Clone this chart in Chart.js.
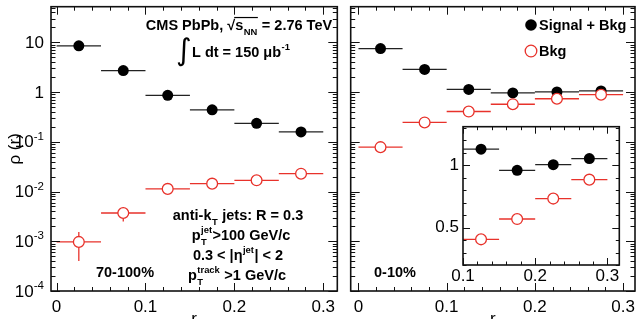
<!DOCTYPE html>
<html>
<head>
<meta charset="utf-8">
<script src="https://cdn.jsdelivr.net/npm/chart.js@4.4.1/dist/chart.umd.min.js"></script>
<style>
  body { margin: 0; background: #fff; }
  #wrap { position: relative; width: 643px; height: 319px; overflow: hidden; }
  .pane { position: absolute; }
</style>
</head>
<body>
<div id="wrap">
  <div class="pane" style="left:0;top:0;width:344px;height:319px"><canvas id="peripheral"></canvas></div>
  <div class="pane" style="left:344px;top:0;width:299px;height:319px"><canvas id="central"></canvas></div>
  <div class="pane" style="left:420px;top:120px;width:206px;height:165px"><canvas id="inset"></canvas></div>
</div>
<script>
const FONT = '"Liberation Sans", Arial, Helvetica, sans-serif';
const RED = '#e8322b';

// bin centres and half widths in r
const rCentres = [0.025, 0.075, 0.125, 0.175, 0.225, 0.275];
const rHalf = [0.025, 0.025, 0.025, 0.025, 0.025, 0.025];

// 70-100% centrality
const periSig = [8.5, 2.7, 0.86, 0.44, 0.235, 0.158];
const periBkg = [0.00097, 0.0037, 0.0113, 0.0144, 0.0168, 0.0228];
const periBkgErr = [0.00057, 0.0012, 0.0004, 0.0005, 0.0005, 0.0006];

// 0-10% centrality
const centSig = [7.5, 2.85, 1.13, 0.96, 1.005, 1.054];
const centBkg = [0.078, 0.245, 0.406, 0.569, 0.733, 0.885];

// tick labels
const xTickValues = [0, 0.1, 0.2, 0.3];
const yDecades = [10, 1, 0.1, 0.01, 0.001, 0.0001];
const insetXTickValues = [0.1, 0.2, 0.3];
const insetYTickValues = [0.5, 1];

function pts(xs, ys) {
  return xs.map((x, i) => ({ x, y: ys[i] }));
}

function sigSet(ys) {
  return {
    label: 'Signal + Bkg', data: pts(rCentres, ys), xErr: rHalf, yErr: null, barColor: '#222', order: 1,
    pointRadius: 5.5, pointBackgroundColor: '#000', pointBorderColor: '#000', pointBorderWidth: 0
  };
}

function bkgSet(ys, errs) {
  return {
    label: 'Bkg', data: pts(rCentres, ys), xErr: rHalf, yErr: errs, barColor: RED, order: 0,
    pointRadius: 5.4, pointBackgroundColor: '#fff', pointBorderColor: RED, pointBorderWidth: 1.3
  };
}

// tick mark lists: [value, length]
function linTicks(from, to, step, majors, majLen, minLen) {
  const out = [];
  const n = Math.round((to - from) / step);
  for (let i = 0; i <= n; i++) {
    const v = +(from + i * step).toFixed(4);
    out.push([v, majors.some(m => Math.abs(m - v) < 1e-9) ? majLen : minLen]);
  }
  return out;
}

function logTicks(lo, hi, majLen, minLen) {
  const out = [];
  for (let e = Math.floor(Math.log10(lo)); e <= Math.ceil(Math.log10(hi)); e++) {
    for (let d = 1; d <= 9; d++) {
      const v = d * Math.pow(10, e);
      if (v >= lo * 0.999 && v <= hi) out.push([v, d === 1 ? majLen : minLen]);
    }
  }
  return out;
}

// text with sub/superscripts, y is the baseline
function drawRich(ctx, parts, x, y, size, align) {
  const small = size * 0.65;
  const big = `bold ${size}px ${FONT}`;
  const little = `bold ${small}px ${FONT}`;
  const norm = p => (typeof p === 'string' ? { t: p } : p);
  const measure = p => {
    ctx.font = big;
    const wt = p.t ? ctx.measureText(p.t).width : 0;
    ctx.font = little;
    const ws = Math.max(p.sub ? ctx.measureText(p.sub).width : 0, p.sup ? ctx.measureText(p.sup).width : 0);
    return { wt, w: wt + ws + (ws ? 1 : 0) };
  };
  const items = parts.map(norm);
  const total = items.reduce((s, p) => s + measure(p).w, 0);
  let cx = align === 'center' ? x - total / 2 : align === 'right' ? x - total : x;
  ctx.textAlign = 'left';
  ctx.textBaseline = 'alphabetic';
  items.forEach(p => {
    const m = measure(p);
    if (p.t) { ctx.font = big; ctx.fillText(p.t, cx, y); }
    ctx.font = little;
    if (p.sup) ctx.fillText(p.sup, cx + m.wt + 0.5, y - size * 0.5);
    if (p.sub) ctx.fillText(p.sub, cx + m.wt + 0.5, y + size * 0.32);
    if (p.over) {
      ctx.beginPath();
      ctx.lineWidth = 1.2;
      ctx.moveTo(cx - 1, y - size * 0.86);
      ctx.lineTo(cx + m.w, y - size * 0.86);
      ctx.stroke();
    }
    cx += m.w;
  });
}

const errorBars = {
  id: 'errorBars',
  beforeDatasetsDraw(chart) {
    const { ctx, chartArea: a, scales: { x, y } } = chart;
    ctx.save();
    ctx.beginPath();
    ctx.rect(a.left, a.top, a.right - a.left, a.bottom - a.top);
    ctx.clip();
    chart.data.datasets.forEach(ds => {
      ctx.strokeStyle = ds.barColor;
      ctx.lineWidth = 1.3;
      ds.data.forEach((p, i) => {
        const px = x.getPixelForValue(p.x);
        const py = y.getPixelForValue(p.y);
        ctx.beginPath();
        ctx.moveTo(x.getPixelForValue(p.x - ds.xErr[i]), py);
        ctx.lineTo(x.getPixelForValue(p.x + ds.xErr[i]), py);
        if (ds.yErr && ds.yErr[i]) {
          ctx.moveTo(px, y.getPixelForValue(p.y + ds.yErr[i]));
          ctx.lineTo(px, y.getPixelForValue(Math.max(p.y - ds.yErr[i], 1e-9)));
        }
        ctx.stroke();
      });
    });
    ctx.restore();
  }
};

// frame with inward ticks on all four sides
const frame = {
  id: 'frame',
  beforeDraw(chart, args, o) {
    if (!o.fill) return;
    const a = chart.chartArea;
    chart.ctx.save();
    chart.ctx.fillStyle = o.fill;
    chart.ctx.fillRect(a.left, a.top, a.right - a.left, a.bottom - a.top);
    chart.ctx.restore();
  },
  afterDatasetsDraw(chart, args, o) {
    const { ctx, chartArea: a, scales: { x, y } } = chart;
    ctx.save();
    ctx.strokeStyle = '#111';
    ctx.lineWidth = 1;
    ctx.beginPath();
    o.xTicks.forEach(([v, len]) => {
      const px = Math.round(x.getPixelForValue(v)) + 0.5;
      ctx.moveTo(px, a.bottom); ctx.lineTo(px, a.bottom - len);
      ctx.moveTo(px, a.top); ctx.lineTo(px, a.top + len);
    });
    o.yTicks.forEach(([v, len]) => {
      const py = Math.round(y.getPixelForValue(v)) + 0.5;
      ctx.moveTo(a.left, py); ctx.lineTo(a.left + len, py);
      ctx.moveTo(a.right, py); ctx.lineTo(a.right - len, py);
    });
    ctx.stroke();
    ctx.lineWidth = 1.6;
    ctx.strokeRect(a.left, a.top, a.right - a.left, a.bottom - a.top);
    ctx.restore();
  }
};

// 10^n labels on the log axis
const decadeLabels = {
  id: 'decadeLabels',
  afterDraw(chart) {
    const { ctx, scales: { y } } = chart;
    const right = 44;
    ctx.save();
    ctx.fillStyle = '#000';
    ctx.textBaseline = 'middle';
    ctx.textAlign = 'left';
    yDecades.forEach(v => {
      const e = Math.round(Math.log10(v));
      const py = y.getPixelForValue(v) + 1;
      const base = e === 0 ? '1' : '10';
      const sup = e === 0 || e === 1 ? '' : String(e);
      ctx.font = `11.5px ${FONT}`;
      const ws = sup ? ctx.measureText(sup).width : 0;
      ctx.font = `17px ${FONT}`;
      const wb = ctx.measureText(base).width;
      ctx.fillText(base, right - ws - wb, py);
      if (sup) {
        ctx.font = `11.5px ${FONT}`;
        ctx.fillText(sup, right - ws, py - 6);
      }
    });
    ctx.restore();
  }
};

const peripheralText = {
  id: 'peripheralText',
  afterDraw(chart) {
    const ctx = chart.ctx;
    ctx.save();
    ctx.fillStyle = '#000';
    ctx.strokeStyle = '#000';
    drawRich(ctx, ['CMS PbPb, ', '\u221A', { t: 's', sub: 'NN', over: true }, ' = 2.76 TeV'], 239, 30, 14.5, 'center');
    ctx.font = `30px "DejaVu Sans"`;
    ctx.textAlign = 'left';
    ctx.fillText('\u222B', 176, 60);
    drawRich(ctx, ['L dt = 150 ', { t: '\u03BCb', sup: '-1' }], 192, 57, 14.5, 'left');
    drawRich(ctx, [{ t: 'anti-k', sub: 'T' }, ' jets: R = 0.3'], 238, 220, 14.5, 'center');
    drawRich(ctx, [{ t: 'p', sub: 'T', sup: 'jet' }, '>100 GeV/c'], 241, 240, 14.5, 'center');
    drawRich(ctx, ['0.3 < |', { t: '\u03B7', sup: 'jet' }, '| < 2'], 238, 260, 14.5, 'center');
    drawRich(ctx, [{ t: 'p', sub: 'T', sup: 'track' }, ' >1 GeV/c'], 237, 280, 14.5, 'center');
    drawRich(ctx, ['70-100%'], 125, 277, 14.5, 'center');
    ctx.restore();
  }
};

const centralText = {
  id: 'centralText',
  afterDraw(chart) {
    const ctx = chart.ctx;
    ctx.save();
    ctx.fillStyle = '#000';
    drawRich(ctx, ['0-10%'], 51, 277, 14.5, 'center');
    // legend, built from the datasets
    const rows = [25, 51];
    chart.data.datasets.forEach((ds, i) => {
      const cy = rows[i];
      ctx.beginPath();
      ctx.arc(187, cy, 5.8, 0, Math.PI * 2);
      ctx.fillStyle = ds.pointBackgroundColor;
      ctx.fill();
      if (ds.pointBorderWidth) {
        ctx.lineWidth = ds.pointBorderWidth;
        ctx.strokeStyle = ds.pointBorderColor;
        ctx.stroke();
      }
      ctx.fillStyle = '#000';
      drawRich(ctx, [ds.label], 195, cy + 5, 14.5, 'left');
    });
    ctx.restore();
  }
};

function mainX(min, max) {
  return {
    type: 'linear', min, max,
    afterFit: s => { s.height = 28; s.paddingLeft = 0; s.paddingRight = 0; },
    afterBuildTicks: s => { s.ticks = xTickValues.map(v => ({ value: v })); },
    grid: { display: false, drawTicks: false },
    border: { display: false },
    ticks: {
      padding: 6, color: '#000', autoSkip: false, maxRotation: 0,
      font: { size: 17, family: FONT },
      callback: v => (v === 0 ? '0' : v.toFixed(1))
    },
    title: { display: true, text: 'r', color: '#000', font: { size: 17, family: FONT }, padding: { top: 0, bottom: -11 } }
  };
}

function mainY(width, title) {
  return {
    type: 'logarithmic', min: 1e-4, max: 52,
    afterFit: s => { s.width = width; s.paddingTop = 0; s.paddingBottom = 0; },
    grid: { display: false, drawTicks: false },
    border: { display: false },
    ticks: { display: false },
    title: { display: title, text: '\u03C1 (r)', color: '#000', font: { size: 17, family: FONT }, padding: { top: 5, bottom: 0 } }
  };
}

const common = {
  responsive: true, maintainAspectRatio: false, animation: false, events: [], devicePixelRatio: 1
};

new Chart(document.getElementById('peripheral'), {
  type: 'scatter',
  data: { datasets: [sigSet(periSig), bkgSet(periBkg, periBkgErr)] },
  options: {
    ...common,
    layout: { padding: { top: 4, right: 0, bottom: 0, left: 0 } },
    plugins: {
      legend: { display: false }, tooltip: { enabled: false },
      frame: { xTicks: linTicks(0, 0.3, 0.02, xTickValues, 8, 4), yTicks: logTicks(1e-4, 52, 9, 4.5) }
    },
    scales: { x: mainX(-0.0063, 0.3158), y: mainY(51, true) }
  },
  plugins: [frame, errorBars, decadeLabels, peripheralText]
});

new Chart(document.getElementById('central'), {
  type: 'scatter',
  data: { datasets: [sigSet(centSig), bkgSet(centBkg, null)] },
  options: {
    ...common,
    layout: { padding: { top: 4, right: 8, bottom: 0, left: 0 } },
    plugins: {
      legend: { display: false }, tooltip: { enabled: false },
      frame: { xTicks: linTicks(0, 0.3, 0.02, xTickValues, 8, 4), yTicks: logTicks(1e-4, 52, 9, 4.5) }
    },
    scales: { x: mainX(-0.0088, 0.3135), y: mainY(0, false) }
  },
  plugins: [frame, errorBars, centralText]
});

new Chart(document.getElementById('inset'), {
  type: 'scatter',
  data: { datasets: [sigSet(centSig), bkgSet(centBkg, null)] },
  options: {
    ...common,
    layout: { padding: { top: 6, right: 0, bottom: 0, left: 0 } },
    plugins: {
      legend: { display: false }, tooltip: { enabled: false },
      frame: {
        fill: '#fff',
        xTicks: linTicks(0.1, 0.3, 0.02, insetXTickValues, 7, 3.5),
        yTicks: linTicks(0.2, 1.3, 0.1, insetYTickValues, 7, 3.5)
      }
    },
    scales: {
      x: {
        type: 'linear', min: 0.1, max: 0.3165,
        afterFit: s => { s.height = 20; s.paddingLeft = 0; s.paddingRight = 0; },
        afterBuildTicks: s => { s.ticks = insetXTickValues.map(v => ({ value: v })); },
        grid: { display: false, drawTicks: false },
        border: { display: false },
        ticks: { padding: 1, color: '#000', autoSkip: false, maxRotation: 0, font: { size: 17, family: FONT }, callback: v => v.toFixed(1) }
      },
      y: {
        type: 'linear', min: 0.2, max: 1.31,
        afterFit: s => { s.width = 43; s.paddingTop = 0; s.paddingBottom = 0; },
        afterBuildTicks: s => { s.ticks = insetYTickValues.map(v => ({ value: v })); },
        grid: { display: false, drawTicks: false },
        border: { display: false },
        ticks: { padding: 4, color: '#000', font: { size: 17, family: FONT }, callback: v => String(v) }
      }
    }
  },
  plugins: [frame, errorBars]
});
</script>
</body>
</html>
